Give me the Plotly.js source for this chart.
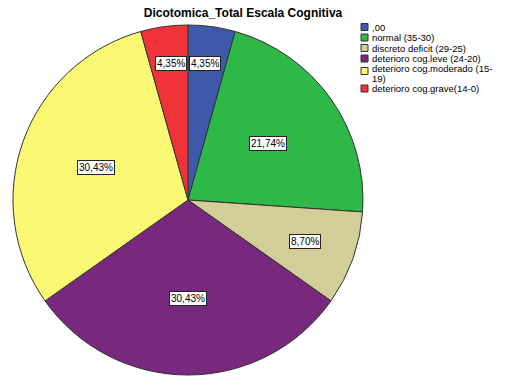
<!DOCTYPE html>
<html>
<head>
<meta charset="utf-8">
<script src="https://cdn.plot.ly/plotly-3.0.1.min.js"></script>
<style>html,body{margin:0;padding:0;background:#fff;}#chart{width:517px;height:385px;}</style>
</head>
<body>
<div id="chart"></div>
<script>
const categories = [",00", "normal (35-30)", "discreto deficit (29-25)", "deterioro cog.leve (24-20)", "deterioro cog.moderado (15-<br>19)", "deterioro cog.grave(14-0)"];
const counts = [1, 5, 2, 7, 7, 1];
const percentLabels = ["4,35%", "21,74%", "8,70%", "30,43%", "30,43%", "4,35%"];
const colors = ["#3E58AC", "#2EB848", "#D3CE97", "#78287D", "#FBF873", "#EF3338"];

const W = 517, H = 385;
const cx = 188, cyTop = 200, R = 175;
const cyBottom = H - cyTop;
const FONT = "Liberation Sans, Arial, sans-serif";

const total = counts.reduce((a, b) => a + b, 0);
const annotations = [];
const shapes = [];
let cum = 0;
counts.forEach((v, i) => {
  const frac = v / total;
  const mid = (cum + frac / 2) * 2 * Math.PI;
  cum += frac;
  const small = frac < 0.06;
  const rf = small ? 0.79 : (frac < 0.12 ? 0.71 : 0.56);
  const sx = Math.sin(mid);
  let x = cx + R * rf * sx;
  let xanchor = "center";
  if (small) {
    // thin slices: label boxes sit side by side, touching the slice edge nearest the pie axis
    x = cx + (sx > 0 ? 1 : -1);
    xanchor = sx > 0 ? "left" : "right";
  }
  const y = cyBottom + R * rf * Math.cos(mid);
  annotations.push({
    x: x / W, y: y / H, xref: "paper", yref: "paper", xanchor: xanchor, yanchor: "middle",
    text: percentLabels[i], showarrow: false,
    font: {family: FONT, size: 10, color: "#000"},
    bgcolor: "#fff", bordercolor: "#222", borderwidth: 1, borderpad: 1
  });
});

// custom compact legend (SPSS style)
const legX = 361, legTextX = 370, rowH = 10.5, lineH = 9;
let rowY = 27;
categories.forEach((lab, i) => {
  const lines = lab.split("<br>");
  const swY = rowY + (lines.length - 1) * 2;
  shapes.push({
    type: "rect", xref: "paper", yref: "paper",
    x0: legX / W, x1: (legX + 7) / W,
    y0: 1 - (swY - 3.5) / H, y1: 1 - (swY + 3.5) / H,
    fillcolor: colors[i], line: {color: "#333", width: 1}
  });
  lines.forEach((ln, k) => {
    annotations.push({
      x: legTextX / W, y: 1 - (rowY + k * lineH) / H, xref: "paper", yref: "paper",
      xanchor: "left", yanchor: "middle", text: ln, showarrow: false,
      font: {family: FONT, size: 9.5, color: "#000"}
    });
  });
  rowY += rowH + (lines.length - 1) * lineH;
});

const data = [{
  type: "pie",
  labels: categories,
  values: counts,
  sort: false,
  direction: "clockwise",
  rotation: 0,
  textinfo: "none",
  marker: {colors: colors, line: {color: "#333", width: 1}},
  domain: {x: [(cx - R) / W, (cx + R) / W], y: [(cyBottom - R) / H, (cyBottom + R) / H]},
  hoverinfo: "label+percent"
}];

const layout = {
  width: W, height: H,
  margin: {l: 0, r: 0, t: 0, b: 0, autoexpand: false},
  paper_bgcolor: "#fff",
  title: {text: "<b>Dicotomica_Total Escala Cognitiva</b>", x: 243 / W, xanchor: "center", y: 1 - 13 / H, yanchor: "middle",
    font: {family: FONT, size: 12, color: "#000"}},
  showlegend: false,
  annotations: annotations,
  shapes: shapes
};

Plotly.newPlot("chart", data, layout, {displayModeBar: false, staticPlot: true});
</script>
</body>
</html>
